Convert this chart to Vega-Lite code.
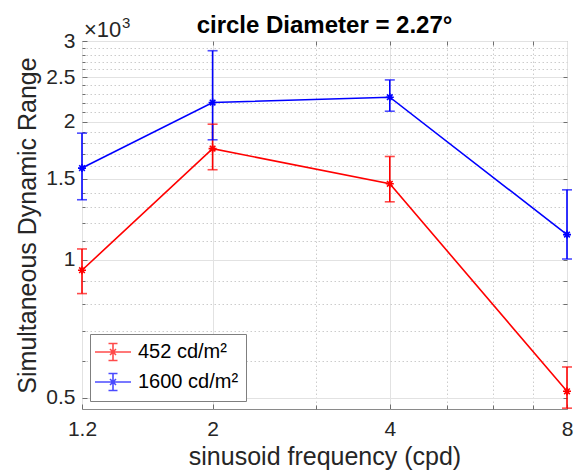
{
  "$schema": "https://vega.github.io/schema/vega-lite/v6.json",
  "width": 485,
  "height": 368,
  "autosize": {"type": "none"},
  "padding": {"left": 82, "top": 41, "right": 17, "bottom": 65},
  "background": "white",
  "config": {
    "font": "Liberation Sans",
    "view": {"stroke": "#8a8a8a", "strokeWidth": 1},
    "axis": {"labelFont": "Liberation Sans", "titleFont": "Liberation Sans", "labelColor": "#262626", "titleColor": "#262626", "titleFontWeight": "normal", "domain": false, "tickColor": "#6f6f6f"}
  },
  "title": {"text": "circle Diameter = 2.27°", "fontSize": 24, "fontWeight": "bold", "font": "Liberation Sans", "color": "#000000", "anchor": "middle", "offset": -41, "baseline": "alphabetic"},
  "datasets": {
    "pts": [
      {"freq": 1.2, "lum": "452 cd/m²", "val": 948, "lo": 843, "hi": 1055},
      {"freq": 2, "lum": "452 cd/m²", "val": 1747, "lo": 1571, "hi": 1975},
      {"freq": 4, "lum": "452 cd/m²", "val": 1464, "lo": 1337, "hi": 1679},
      {"freq": 8, "lum": "452 cd/m²", "val": 516, "lo": 474, "hi": 583},
      {"freq": 1.2, "lum": "1600 cd/m²", "val": 1584, "lo": 1351, "hi": 1888},
      {"freq": 2, "lum": "1600 cd/m²", "val": 2202, "lo": 1826, "hi": 2857},
      {"freq": 4, "lum": "1600 cd/m²", "val": 2262, "lo": 2108, "hi": 2467},
      {"freq": 8, "lum": "1600 cd/m²", "val": 1134, "lo": 1003, "hi": 1420}
    ]
  },
  "data": {"name": "pts"},
  "layer": [
    {
      "mark": {"type": "point", "opacity": 0},
      "encoding": {
        "x": {"field": "freq", "type": "quantitative", "scale": {"type": "log", "domain": [1.2, 8], "nice": false},
          "axis": {"orient": "bottom", "values": [1.2, 2, 4, 8], "format": "~g", "labelFlush": false, "labelFontSize": 21, "labelPadding": 14, "title": "sinusoid frequency (cpd)", "titleFontSize": 25, "titlePadding": 5, "grid": true, "gridColor": "#e2e2e2", "gridWidth": 1, "ticks": true, "tickSize": -5}},
        "y": {"field": "val", "type": "quantitative", "scale": {"type": "log", "domain": [472, 3000], "nice": false},
          "axis": {"orient": "left", "values": [500, 1000, 1500, 2000, 2500, 3000], "labelExpr": "datum.value/1000", "labelFontSize": 21, "labelPadding": 12, "title": "Simultaneous Dynamic Range", "titleFontSize": 25, "titlePadding": 5, "grid": true, "gridColor": "#e2e2e2", "gridWidth": 1, "ticks": true, "tickSize": -5}}
      }
    },
    {
      "mark": {"type": "point", "opacity": 0},
      "encoding": {
        "x": {"field": "freq", "type": "quantitative", "scale": {"type": "log", "domain": [1.2, 8], "nice": false},
          "axis": {"orient": "bottom", "values": [3, 5, 6, 7], "labels": false, "title": null, "grid": true, "gridDash": [1.5, 2.5], "gridColor": "#cccccc", "ticks": true, "tickSize": -4}},
        "y": {"field": "val", "type": "quantitative", "scale": {"type": "log", "domain": [472, 3000], "nice": false},
          "axis": {"orient": "left", "values": [600, 700, 800, 900, 1100, 1200, 1300, 1400, 1600, 1700, 1800, 1900, 2100, 2200, 2300, 2400, 2600, 2700, 2800, 2900], "labels": false, "title": null, "grid": true, "gridDash": [1.5, 2.5], "gridColor": "#cccccc", "ticks": true, "tickSize": -3}}
      }
    },
    {
      "mark": {"type": "point", "opacity": 0},
      "encoding": {
        "x": {"field": "freq", "type": "quantitative", "scale": {"type": "log", "domain": [1.2, 8], "nice": false},
          "axis": {"orient": "top", "values": [2, 3, 4, 5, 6, 7], "labels": false, "title": null, "grid": false, "ticks": true, "tickSize": -4}},
        "y": {"field": "val", "type": "quantitative", "scale": {"type": "log", "domain": [472, 3000], "nice": false},
          "axis": {"orient": "right", "values": [500, 600, 700, 800, 900, 1000, 1500, 2000, 2500], "labels": false, "title": null, "grid": false, "ticks": true, "tickSize": -4}}
      }
    },
    {
      "mark": {"type": "line", "strokeWidth": 1.6},
      "encoding": {
        "x": {"field": "freq", "type": "quantitative", "scale": {"type": "log", "domain": [1.2, 8], "nice": false}, "axis": null},
        "y": {"field": "val", "type": "quantitative", "scale": {"type": "log", "domain": [472, 3000], "nice": false}, "axis": null},
        "color": {"field": "lum", "type": "nominal", "sort": null,
          "scale": {"domain": ["452 cd/m²", "1600 cd/m²"], "range": ["#ff0000", "#0000ff"]},
          "legend": {"title": null, "orient": "bottom-left", "offset": 8, "fillColor": "white", "strokeColor": "#7f7f7f", "padding": 7, "cornerRadius": 0, "labelFontSize": 20, "labelFont": "Liberation Sans", "labelColor": "#000000", "symbolType": "M-1.8,0H1.8M0,-0.85V0.85M-0.45,-0.85H0.45M-0.45,0.85H0.45M-0.3,-0.3L0.3,0.3M-0.3,0.3L0.3,-0.3", "symbolSize": 400, "symbolStrokeWidth": 1.6, "symbolOffset": 5, "labelOffset": 14, "rowPadding": 6}}
      }
    },
    {
      "mark": {"type": "rule", "strokeWidth": 1.6},
      "encoding": {
        "x": {"field": "freq", "type": "quantitative", "scale": {"type": "log", "domain": [1.2, 8], "nice": false}, "axis": null},
        "y": {"field": "lo", "type": "quantitative", "scale": {"type": "log", "domain": [472, 3000], "nice": false}, "axis": null},
        "y2": {"field": "hi"},
        "color": {"field": "lum", "type": "nominal", "sort": null, "scale": {"domain": ["452 cd/m²", "1600 cd/m²"], "range": ["#ff0000", "#0000ff"]}}
      }
    },
    {
      "mark": {"type": "tick", "orient": "horizontal", "size": 10, "thickness": 1.6},
      "encoding": {
        "x": {"field": "freq", "type": "quantitative", "scale": {"type": "log", "domain": [1.2, 8], "nice": false}, "axis": null},
        "y": {"field": "hi", "type": "quantitative", "scale": {"type": "log", "domain": [472, 3000], "nice": false}, "axis": null},
        "color": {"field": "lum", "type": "nominal", "sort": null, "scale": {"domain": ["452 cd/m²", "1600 cd/m²"], "range": ["#ff0000", "#0000ff"]}}
      }
    },
    {
      "mark": {"type": "tick", "orient": "horizontal", "size": 10, "thickness": 1.6},
      "encoding": {
        "x": {"field": "freq", "type": "quantitative", "scale": {"type": "log", "domain": [1.2, 8], "nice": false}, "axis": null},
        "y": {"field": "lo", "type": "quantitative", "scale": {"type": "log", "domain": [472, 3000], "nice": false}, "axis": null},
        "color": {"field": "lum", "type": "nominal", "sort": null, "scale": {"domain": ["452 cd/m²", "1600 cd/m²"], "range": ["#ff0000", "#0000ff"]}}
      }
    },
    {
      "mark": {"type": "point", "filled": false, "strokeWidth": 1.6, "size": 64, "opacity": 1, "shape": "M-1,0H1M0,-1V1M-0.7,-0.7L0.7,0.7M-0.7,0.7L0.7,-0.7"},
      "encoding": {
        "x": {"field": "freq", "type": "quantitative", "scale": {"type": "log", "domain": [1.2, 8], "nice": false}, "axis": null},
        "y": {"field": "val", "type": "quantitative", "scale": {"type": "log", "domain": [472, 3000], "nice": false}, "axis": null},
        "color": {"field": "lum", "type": "nominal", "sort": null, "scale": {"domain": ["452 cd/m²", "1600 cd/m²"], "range": ["#ff0000", "#0000ff"]}}
      }
    },
    {
      "data": {"values": [{"t": "×10"}]},
      "mark": {"type": "text", "align": "left", "baseline": "alphabetic", "dx": 2, "dy": -4, "fontSize": 22, "font": "Liberation Sans", "color": "#262626"},
      "encoding": {
        "x": {"datum": 1.2, "type": "quantitative", "scale": {"type": "log", "domain": [1.2, 8], "nice": false}, "axis": null},
        "y": {"datum": 3000, "type": "quantitative", "scale": {"type": "log", "domain": [472, 3000], "nice": false}, "axis": null},
        "text": {"field": "t"}
      }
    },
    {
      "data": {"values": [{"t": "3"}]},
      "mark": {"type": "text", "align": "left", "baseline": "alphabetic", "dx": 40, "dy": -13, "fontSize": 15, "font": "Liberation Sans", "color": "#262626"},
      "encoding": {
        "x": {"datum": 1.2, "type": "quantitative", "scale": {"type": "log", "domain": [1.2, 8], "nice": false}, "axis": null},
        "y": {"datum": 3000, "type": "quantitative", "scale": {"type": "log", "domain": [472, 3000], "nice": false}, "axis": null},
        "text": {"field": "t"}
      }
    }
  ],
  "resolve": {"axis": {"x": "independent", "y": "independent"}}
}
